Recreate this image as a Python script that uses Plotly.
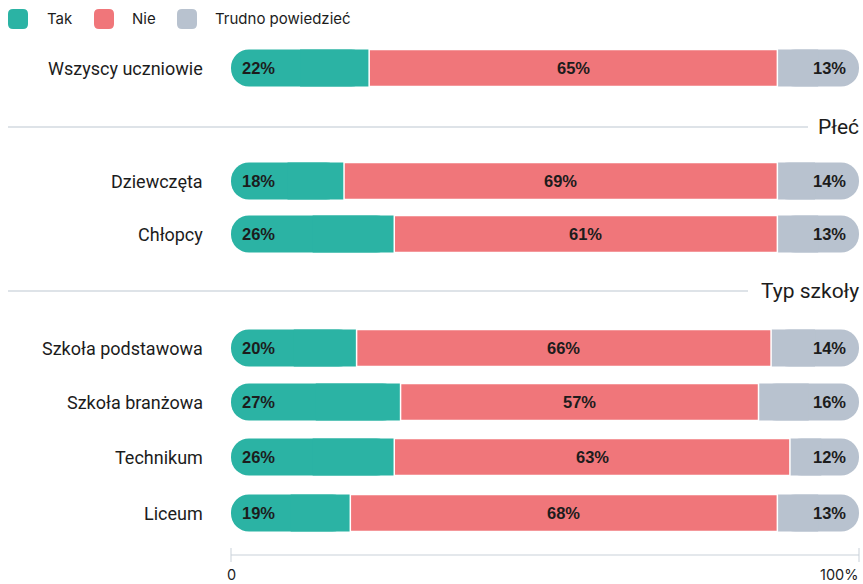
import plotly.graph_objects as go

# Survey answers by group (percent)
categories = ["Wszyscy uczniowie", "Dziewczęta", "Chłopcy", "Szkoła podstawowa",
              "Szkoła branżowa", "Technikum", "Liceum"]
tak = [22, 18, 26, 20, 27, 26, 19]
nie = [65, 69, 61, 66, 57, 63, 68]
trudno = [13, 14, 13, 14, 16, 12, 13]
series_names = ["Tak", "Nie", "Trudno powiedzieć"]
sections = ["Płeć", "Typ szkoły"]
x_ticks = [0, 100]
x_tick_labels = ["0", "100%"]

# Layout constants (pixels)
W, H = 863, 584
ML, MR, MT, MB = 231, 4, 0, 29
PLOT_W = W - ML - MR
PLOT_H = H - MT - MB
row_y = [68, 181, 234, 348, 402, 457, 513]
section_y = [127, 291]
section_line_end = [808, 748]
BAR_H = 37

GREEN = "#2bb3a4"
RED = "#f0767a"
GREY = "#b8c2cf"
TEXT = "#1c1c1c"
LABEL_FONT = "Roboto, sans-serif"
VALUE_FONT = "Liberation Sans, Arial, sans-serif"


def px_x(px):
    return (px - ML) / PLOT_W


def px_y(py):
    return (H - MB - py) / PLOT_H


fig = go.Figure()
common = dict(y=row_y, orientation="h", width=BAR_H, showlegend=False, hoverinfo="skip")

# "Tak": rounded pill from 0, with a square patch on its inner end
fig.add_trace(go.Bar(x=tak, base=[0] * len(tak), name=series_names[0],
                     marker=dict(color=GREEN, line=dict(width=0), cornerradius="50%"), **common))
fig.add_trace(go.Bar(x=[v / 2 for v in tak], base=[v / 2 for v in tak], name=series_names[0],
                     marker=dict(color=GREEN, line=dict(width=0), cornerradius=0), **common))
# "Trudno powiedzieć": rounded pill ending at 100, square on its inner end
fig.add_trace(go.Bar(x=trudno, base=[100 - v for v in trudno], name=series_names[2],
                     marker=dict(color=GREY, line=dict(width=0), cornerradius="50%"), **common))
fig.add_trace(go.Bar(x=[v / 2 for v in trudno], base=[100 - v for v in trudno], name=series_names[2],
                     marker=dict(color=GREY, line=dict(width=0), cornerradius=0), **common))
# "Nie" in the middle, white edges separate the segments
fig.add_trace(go.Bar(x=nie, base=tak, name=series_names[1],
                     marker=dict(color=RED, line=dict(color="white", width=1.5), cornerradius=0),
                     **common))

annotations = []
value_font = dict(family=VALUE_FONT, size=16.5, color=TEXT, weight="bold")
for cat, yy, t, n, d in zip(categories, row_y, tak, nie, trudno):
    annotations.append(dict(x=px_x(205), xref="paper", y=yy, yref="y", text=cat,
                            xanchor="right", yanchor="middle", showarrow=False,
                            font=dict(family=LABEL_FONT, size=18, color=TEXT)))
    annotations.append(dict(x=0, xref="x", y=yy, yref="y", text=f"{t}%", xshift=9,
                            xanchor="left", yanchor="middle", showarrow=False, font=value_font))
    annotations.append(dict(x=t + n / 2, xref="x", y=yy, yref="y", text=f"{n}%",
                            xanchor="center", yanchor="middle", showarrow=False, font=value_font))
    annotations.append(dict(x=100, xref="x", y=yy, yref="y", text=f"{d}%", xshift=-11,
                            xanchor="right", yanchor="middle", showarrow=False, font=value_font))

shapes = []
# Section headers with rules
for name, yy, xend in zip(sections, section_y, section_line_end):
    shapes.append(dict(type="line", xref="paper", yref="paper",
                       x0=px_x(8), x1=px_x(xend), y0=px_y(yy), y1=px_y(yy),
                       line=dict(color="#d3dae1", width=1.5)))
    annotations.append(dict(x=px_x(861), xref="paper", y=px_y(yy), yref="paper", text=name,
                            xanchor="right", yanchor="middle", showarrow=False,
                            font=dict(family=LABEL_FONT, size=21, color=TEXT)))

# Bottom axis line and tick marks
shapes.append(dict(type="line", xref="paper", yref="paper", x0=0, x1=1,
                   y0=px_y(555), y1=px_y(555), line=dict(color="#c9d1d9", width=1)))
for tv in x_ticks:
    xp = tv / 100
    shapes.append(dict(type="line", xref="paper", yref="paper", x0=xp, x1=xp,
                       y0=px_y(548), y1=px_y(562), line=dict(color="#c9d1d9", width=1)))
for tv, tl in zip(x_ticks, x_tick_labels):
    annotations.append(dict(x=tv / 100, xref="paper", y=px_y(574), yref="paper", text=tl,
                            xanchor="center" if tv == 0 else "right", xshift=0 if tv == 0 else 1,
                            yanchor="middle", showarrow=False,
                            font=dict(family="Inter, sans-serif", size=14.5, color=TEXT)))


def rounded_square(x0, y0, size, r):
    x1, y1 = x0 + size, y0 + size
    pts = [
        ("M", [(x0 + r, y0)]), ("L", [(x1 - r, y0)]), ("Q", [(x1, y0), (x1, y0 + r)]),
        ("L", [(x1, y1 - r)]), ("Q", [(x1, y1), (x1 - r, y1)]), ("L", [(x0 + r, y1)]),
        ("Q", [(x0, y1), (x0, y1 - r)]), ("L", [(x0, y0 + r)]), ("Q", [(x0, y0), (x0 + r, y0)]),
    ]
    out = []
    for cmd, ps in pts:
        out.append(cmd + " ".join(f"{px_x(a):.5f},{px_y(b):.5f}" for a, b in ps))
    return " ".join(out) + " Z"


# Legend
legend_items = [(8, 45, GREEN), (94, 130, RED), (177, 213, GREY)]
for name, (sx, tx, col) in zip(series_names, legend_items):
    shapes.append(dict(type="path", xref="paper", yref="paper",
                       path=rounded_square(sx, 9, 20, 5), fillcolor=col, line=dict(width=0)))
    annotations.append(dict(x=px_x(tx), xref="paper", y=px_y(19), yref="paper", text=name,
                            xanchor="left", yanchor="middle", showarrow=False,
                            font=dict(family="Inter, sans-serif", size=15, color=TEXT)))

fig.update_layout(
    width=W, height=H,
    margin=dict(l=ML, r=MR, t=MT, b=MB, pad=0),
    paper_bgcolor="white", plot_bgcolor="white",
    barmode="overlay",
    showlegend=False,
    xaxis=dict(range=[0, 100], visible=False, fixedrange=True),
    yaxis=dict(range=[H - MB, MT], visible=False, fixedrange=True),
    shapes=shapes,
    annotations=annotations,
)

fig.write_html("out.html")
